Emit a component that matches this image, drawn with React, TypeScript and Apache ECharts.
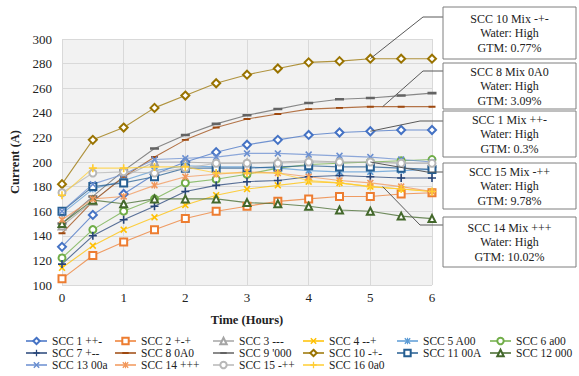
import React, { useEffect, useRef } from "react";
import * as echarts from "echarts";

const times = [0, 0.5, 1, 1.5, 2, 2.5, 3, 3.5, 4, 4.5, 5, 5.5, 6];

const seriesNames = [
  "SCC 1 ++-", "SCC 2 +-+", "SCC 3 ---", "SCC 4 --+",
  "SCC 5 A00", "SCC 6 a00", "SCC 7 +--", "SCC 8 0A0",
  "SCC 9 '000", "SCC 10 -+-", "SCC 11 00A", "SCC 12 000",
  "SCC 13 00a", "SCC 14 +++", "SCC 15 -++", "SCC 16 0a0",
];

const scc1 = [131, 157, 174, 190, 200, 208, 214, 218, 222, 224, 225, 226, 226];
const scc2 = [105, 124, 135, 145, 154, 160, 164, 168, 170, 172, 172, 174, 175];
const scc3 = [148, 168, 188, 200, 200, 199, 199, 200, 201, 200, 200, 199, 199];
const scc4 = [114, 132, 145, 155, 165, 173, 178, 181, 184, 183, 180, 178, 176];
const scc5 = [158, 178, 185, 193, 197, 196, 196, 195, 193, 192, 192, 193, 194];
const scc6 = [122, 145, 160, 170, 183, 186, 190, 195, 198, 199, 200, 201, 202];
const scc7 = [117, 140, 153, 164, 176, 181, 184, 185, 188, 189, 188, 187, 187];
const scc8 = [142, 168, 188, 204, 218, 228, 235, 239, 243, 244, 245, 245, 245];
const scc9 = [150, 172, 193, 211, 222, 231, 238, 243, 248, 251, 252, 254, 256];
const scc10 = [182, 218, 228, 244, 254, 264, 271, 276, 281, 282, 284, 284, 284];
const scc11 = [160, 180, 183, 188, 195, 195, 195, 196, 197, 196, 196, 195, 194];
const scc12 = [150, 169, 166, 170, 170, 170, 167, 166, 164, 161, 160, 156, 154];
const scc13 = [160, 182, 190, 202, 203, 204, 207, 207, 206, 205, 204, 202, 200];
const scc14 = [153, 170, 172, 181, 188, 190, 192, 191, 188, 185, 183, 180, 176];
const scc15 = [175, 191, 192, 191, 195, 199, 199, 199, 200, 200, 200, 199, 199];
const scc16 = [173, 195, 195, 196, 196, 191, 191, 191, 185, 183, 180, 178, 176];

const seriesValues = [scc1, scc2, scc3, scc4, scc5, scc6, scc7, scc8, scc9, scc10, scc11, scc12, scc13, scc14, scc15, scc16];

const seriesColors = [
  "#4472C4", "#ED7D31", "#A5A5A5", "#FFC000", "#5B9BD5", "#70AD47",
  "#264478", "#9E480E", "#636363", "#997300", "#255E91", "#43682B",
  "#698ED0", "#F1975A", "#B7B7B7", "#FFCD33",
];

const legendColumns = [
  ["SCC 1 ++-", "SCC 7 +--", "SCC 13 00a"],
  ["SCC 2 +-+", "SCC 8 0A0", "SCC 14 +++"],
  ["SCC 3 ---", "SCC 9 '000", "SCC 15 -++"],
  ["SCC 4 --+", "SCC 10 -+-", "SCC 16 0a0"],
  ["SCC 5 A00", "SCC 11 00A"],
  ["SCC 6 a00", "SCC 12 000"],
];

const annotationTexts = [
  ["SCC 10 Mix -+-", "Water: High", "GTM: 0.77%"],
  ["SCC 8 Mix 0A0", "Water: High", "GTM: 3.09%"],
  ["SCC 1 Mix ++-", "Water: High", "GTM: 0.3%"],
  ["SCC 15 Mix -++", "Water: High", "GTM: 9.78%"],
  ["SCC 14 Mix +++", "Water: High", "GTM: 10.02%"],
];
// data points the callouts point at: [time, current]
const annotationAnchors = [
  [5, 284],
  [5.2, 245],
  [5, 225],
  [5, 200],
  [5.2, 180],
];

const X_PATH = "path://M0,1.6 L1.6,0 L5,3.4 L8.4,0 L10,1.6 L6.6,5 L10,8.4 L8.4,10 L5,6.6 L1.6,10 L0,8.4 L3.4,5 Z";
const PLUS_PATH = "path://M4,0 L6,0 L6,4 L10,4 L10,6 L6,6 L6,10 L4,10 L4,6 L0,6 L0,4 L4,4 Z";
const STAR_PATH = "path://M0,1.6 L1.6,0 L5,3.4 L8.4,0 L10,1.6 L6.6,5 L10,8.4 L8.4,10 L5,6.6 L1.6,10 L0,8.4 L3.4,5 Z M4.2,0 L5.8,0 L5.8,10 L4.2,10 Z";
// thin bar inside a square bounding box (degenerate corner points keep it square)
const DASH_PATH = "path://M0,0 L0.01,0 L0.01,0.01 Z M0,3.6 L10,3.6 L10,6.4 L0,6.4 Z M9.99,9.99 L10,9.99 L10,10 Z";

const markerDefs: any[] = [
  ["emptyDiamond", 8], ["emptyRect", 7], ["emptyTriangle", 7], [X_PATH, 7],
  [STAR_PATH, 7], ["emptyCircle", 7], [PLUS_PATH, 8], [DASH_PATH, 7],
  [DASH_PATH, 9], ["emptyDiamond", 8], ["emptyRect", 7], ["emptyTriangle", 7],
  [X_PATH, 7], [STAR_PATH, 7], ["emptyCircle", 7], [PLUS_PATH, 8],
];

const SERIF = "Liberation Serif";

export default function App() {
  const ref = useRef<HTMLDivElement>(null);
  useEffect(() => {
    if (!ref.current) return;
    const chart = echarts.init(ref.current, null, { renderer: "svg" });
    const series = seriesNames.map((name, i) => {
      const [symbol, size] = markerDefs[i];
      const empty = typeof symbol === "string" && symbol.startsWith("empty");
      return {
        name,
        type: "line",
        data: times.map((t, j) => [t, seriesValues[i][j]]),
        symbol,
        symbolSize: size,
        showAllSymbol: true,
        color: seriesColors[i],
        lineStyle: { width: 1.1, color: seriesColors[i], opacity: 0.75 },
        itemStyle: empty
          ? { color: seriesColors[i], borderColor: seriesColors[i], borderWidth: 1.7 }
          : { color: seriesColors[i], borderWidth: 0 },
        emphasis: { disabled: true },
      };
    });
    const legendX = [25, 114, 212, 302, 396, 489];
    const legends = legendColumns.map((col, k) => ({
      data: col,
      orient: "vertical",
      left: legendX[k],
      top: 335,
      itemWidth: 21,
      itemHeight: 8,
      itemGap: 0,
      padding: 0,
      textStyle: { fontFamily: SERIF, fontSize: 11.5, lineHeight: 11, color: "#222" },
    }));
    chart.setOption({
      animation: false,
      backgroundColor: "#fff",
      textStyle: { fontFamily: SERIF },
      grid: {
        left: 62, right: 147, top: 39, bottom: 91,
        show: true, backgroundColor: "#f2f2f2", borderWidth: 0,
      },
      xAxis: {
        type: "value", min: 0, max: 6, interval: 1,
        name: "Time (Hours)", nameLocation: "middle", nameGap: 28,
        nameTextStyle: { fontFamily: SERIF, fontSize: 12.5, fontWeight: "bold", color: "#222" },
        axisLine: { show: false }, axisTick: { show: false },
        axisLabel: { fontFamily: SERIF, fontSize: 13, color: "#222", margin: 6 },
        splitLine: { show: true, lineStyle: { color: "#d9d9d9", width: 1 } },
      },
      yAxis: {
        type: "value", min: 100, max: 300, interval: 20,
        name: "Current (A)", nameLocation: "middle", nameGap: 38,
        nameTextStyle: { fontFamily: SERIF, fontSize: 12.5, fontWeight: "bold", color: "#222" },
        axisLine: { show: false }, axisTick: { show: false },
        axisLabel: { fontFamily: SERIF, fontSize: 13, color: "#222", margin: 10 },
        splitLine: { show: true, lineStyle: { color: "#d9d9d9", width: 1 } },
      },
      legend: legends,
      series,
    });

    const boxX = 443, boxW = 133;
    const boxes = [
      { y: 7, h: 52, ex: 423, ey: 17 },
      { y: 63, h: 46, ex: 423, ey: 71 },
      { y: 111, h: 46, ex: 420, ey: 121 },
      { y: 163, h: 46, ex: 427, ey: 172 },
      { y: 217, h: 50, ex: 420, ey: 225 },
    ];
    const graphics: any[] = [];
    annotationTexts.forEach((lines, i) => {
      const b = boxes[i];
      const p = chart.convertToPixel({ xAxisIndex: 0, yAxisIndex: 0 }, annotationAnchors[i]) as number[];
      graphics.push({
        type: "polyline",
        silent: true,
        shape: { points: [p, [b.ex, b.ey], [boxX, b.ey]] },
        style: { stroke: "#595959", lineWidth: 1, fill: "none" },
        z: 100,
      });
      graphics.push({
        type: "rect",
        silent: true,
        shape: { x: boxX, y: b.y, width: boxW, height: b.h },
        style: { fill: "#fff", stroke: "#7f7f7f", lineWidth: 1 },
        z: 101,
      });
      graphics.push({
        type: "text",
        silent: true,
        style: {
          text: lines.join("\n"),
          x: boxX + boxW / 2,
          y: b.y + b.h / 2,
          align: "center",
          verticalAlign: "middle",
          fontFamily: SERIF,
          fontSize: 12,
          lineHeight: 14.5,
          fill: "#222",
        },
        z: 102,
      });
    });
    chart.setOption({ graphic: graphics });
    return () => chart.dispose();
  }, []);
  return <div ref={ref} style={{ width: 579, height: 376, position: "absolute", left: 0, top: 0 }} />;
}
